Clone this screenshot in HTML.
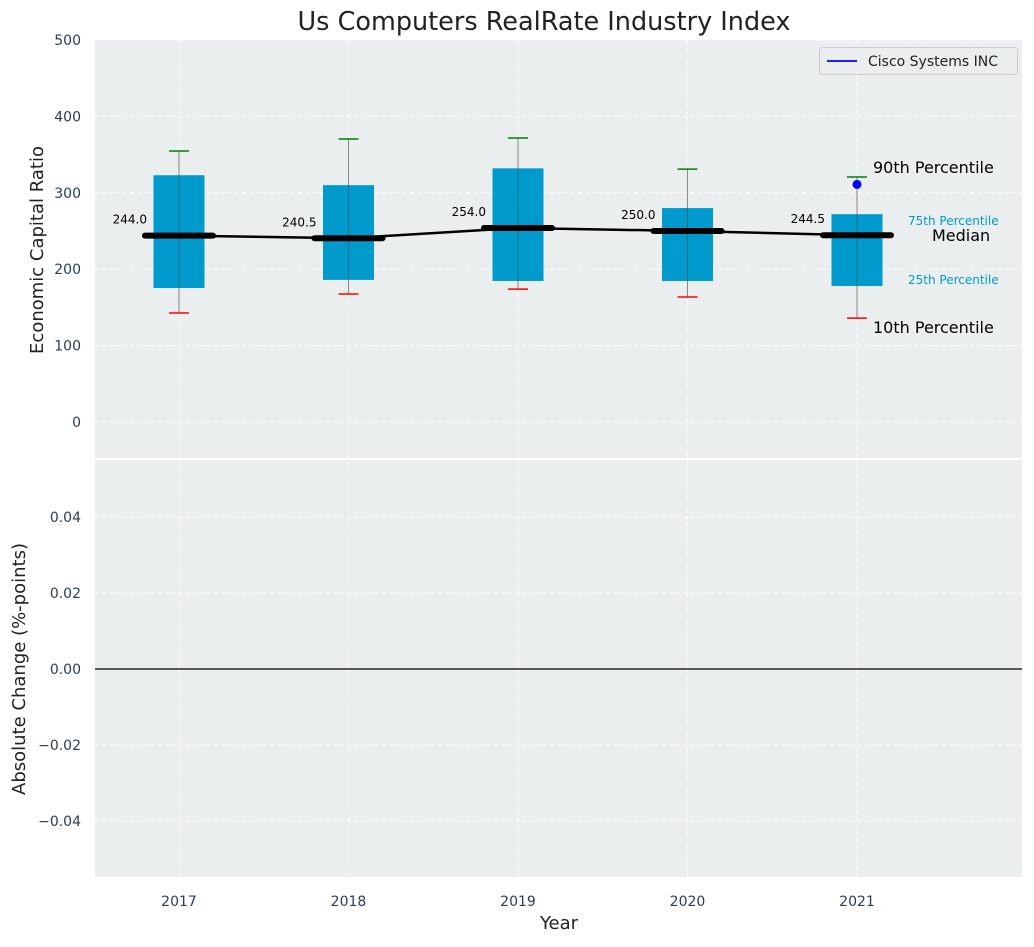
<!DOCTYPE html>
<html><head><meta charset="utf-8"><style>
body{margin:0;background:#fff;}
svg text{font-family:"DejaVu Sans","Liberation Sans",sans-serif;}
</style></head><body>
<svg id="c" width="1034" height="942" xmlns="http://www.w3.org/2000/svg"></svg>
<script>
const years=[2017,2018,2019,2020,2021];
const p10=[142.7,167.5,174,163.6,136];
const q1=[175.4,186,184.6,184.6,178];
const med=[244,240.5,254,250,244.5];
const q3=[323,310,332,280,272];
const p90=[354.7,370.4,371.7,331,320.7];
const ciscoVal=[311];
const ciscoYear=[2021];
const topTicks=[0,100,200,300,400,500];
const botTicks=[-0.04,-0.02,0,0.02,0.04];

const NS="http://www.w3.org/2000/svg";
const svg=document.getElementById('c');
function el(t,a,p){const e=document.createElementNS(NS,t);for(const k in a)e.setAttribute(k,a[k]);(p||svg).appendChild(e);return e;}
function tx(s,a,p){const e=el('text',a,p);e.textContent=s;return e;}
const X=y=>179+(y-2017)*169.5;
const Y1=v=>422-0.764*v;
const Y2=v=>669-v*3800;

const bg1=el('rect',{x:95,y:40,width:927,height:418,fill:'#eaeeee'});

const bg2=el('rect',{x:95,y:460,width:927,height:417,fill:'#eaeeee'});


years.forEach(y=>{
  el('line',{x1:X(y),x2:X(y),y1:40,y2:458,stroke:'#fff','stroke-dasharray':'4,3','stroke-width':1});
  el('line',{x1:X(y),x2:X(y),y1:460,y2:877,stroke:'#fff','stroke-dasharray':'4,3','stroke-width':1});
  const t=tx(y,{x:X(y),y:906,'font-size':14,fill:'#2b3e50','text-anchor':'middle'});
  
});
topTicks.forEach(v=>{
  el('line',{x1:95,x2:1022,y1:Y1(v),y2:Y1(v),stroke:'#fff','stroke-dasharray':'4,3'});
  const t=tx(v,{x:81,y:Y1(v)+5,'font-size':14,fill:'#2b3e50','text-anchor':'end'});
  
});
botTicks.forEach(v=>{
  el('line',{x1:95,x2:1022,y1:Y2(v),y2:Y2(v),stroke:'#fff','stroke-dasharray':'4,3'});
  const t=tx((v<0?'\u2212':'')+Math.abs(v).toFixed(2),{x:81,y:Y2(v)+5,'font-size':14,fill:'#2b3e50','text-anchor':'end'});
  
});
const zl=el('line',{x1:95,x2:1022,y1:Y2(0),y2:Y2(0),stroke:'#000','stroke-width':1.3});


years.forEach((y,i)=>{
  const x=X(y);
  el('line',{x1:x,x2:x,y1:Y1(p90[i]),y2:Y1(p10[i]),stroke:'#888','stroke-width':1});
  const b=el('rect',{x:x-25.5,y:Y1(q3[i]),width:51,height:Y1(q1[i])-Y1(q3[i]),fill:'#009acd'});
  
  el('line',{x1:x,x2:x,y1:Y1(q3[i]),y2:Y1(q1[i]),stroke:'#444','stroke-width':1,opacity:0.5});
  el('line',{x1:x-10,x2:x+10,y1:Y1(p90[i]),y2:Y1(p90[i]),stroke:'green','stroke-width':1.5});
  el('line',{x1:x-10,x2:x+10,y1:Y1(p10[i]),y2:Y1(p10[i]),stroke:'red','stroke-width':1.5});
  const m=el('line',{x1:x-34,x2:x+34,y1:Y1(med[i]),y2:Y1(med[i]),stroke:'#000','stroke-width':6,'stroke-linecap':'round'});
  
  const l=tx(med[i].toFixed(1),{x:x-32,y:Y1(med[i])-12,'font-size':12,fill:'#000','text-anchor':'end'});
  
});
const ml=el('polyline',{points:years.map((y,i)=>X(y)+','+Y1(med[i])).join(' '),fill:'none',stroke:'#000','stroke-width':2.5});

ciscoYear.forEach((y,i)=>{
  const c=el('circle',{cx:X(y),cy:Y1(ciscoVal[i]),r:4.5,fill:'blue'});
  
});

const ann=[['90th Percentile',873,173,16,'#000'],['75th Percentile',908,225,12,'#009acd'],['Median',932,241,16,'#000'],['25th Percentile',908,284,12,'#009acd'],['10th Percentile',873,333,16,'#000']];
ann.forEach(a=>{const t=tx(a[0],{x:a[1],y:a[2],'font-size':a[3],fill:a[4]});});

const lg=el('g',{});
el('rect',{x:819.5,y:47.5,width:198,height:27,rx:3,fill:'#eaeeee',stroke:'#ccc'},lg);
el('line',{x1:827,x2:857,y1:61,y2:61,stroke:'blue','stroke-width':1.8},lg);
const le=tx('Cisco Systems INC',{x:868,y:66,'font-size':14,fill:'#222'},lg);


const ti=tx('Us Computers RealRate Industry Index',{x:544,y:30,'font-size':25.5,fill:'#222','text-anchor':'middle'});

const xt=tx('Year',{x:559,y:929,'font-size':18,fill:'#222','text-anchor':'middle'});

const y1t=tx('Economic Capital Ratio',{x:0,y:0,'font-size':18,fill:'#222','text-anchor':'middle',transform:'translate(43,250) rotate(-90)'});

const y2t=tx('Absolute Change (%-points)',{x:0,y:0,'font-size':18,fill:'#222','text-anchor':'middle',transform:'translate(25,669) rotate(-90)'});

</script>
</body></html>
